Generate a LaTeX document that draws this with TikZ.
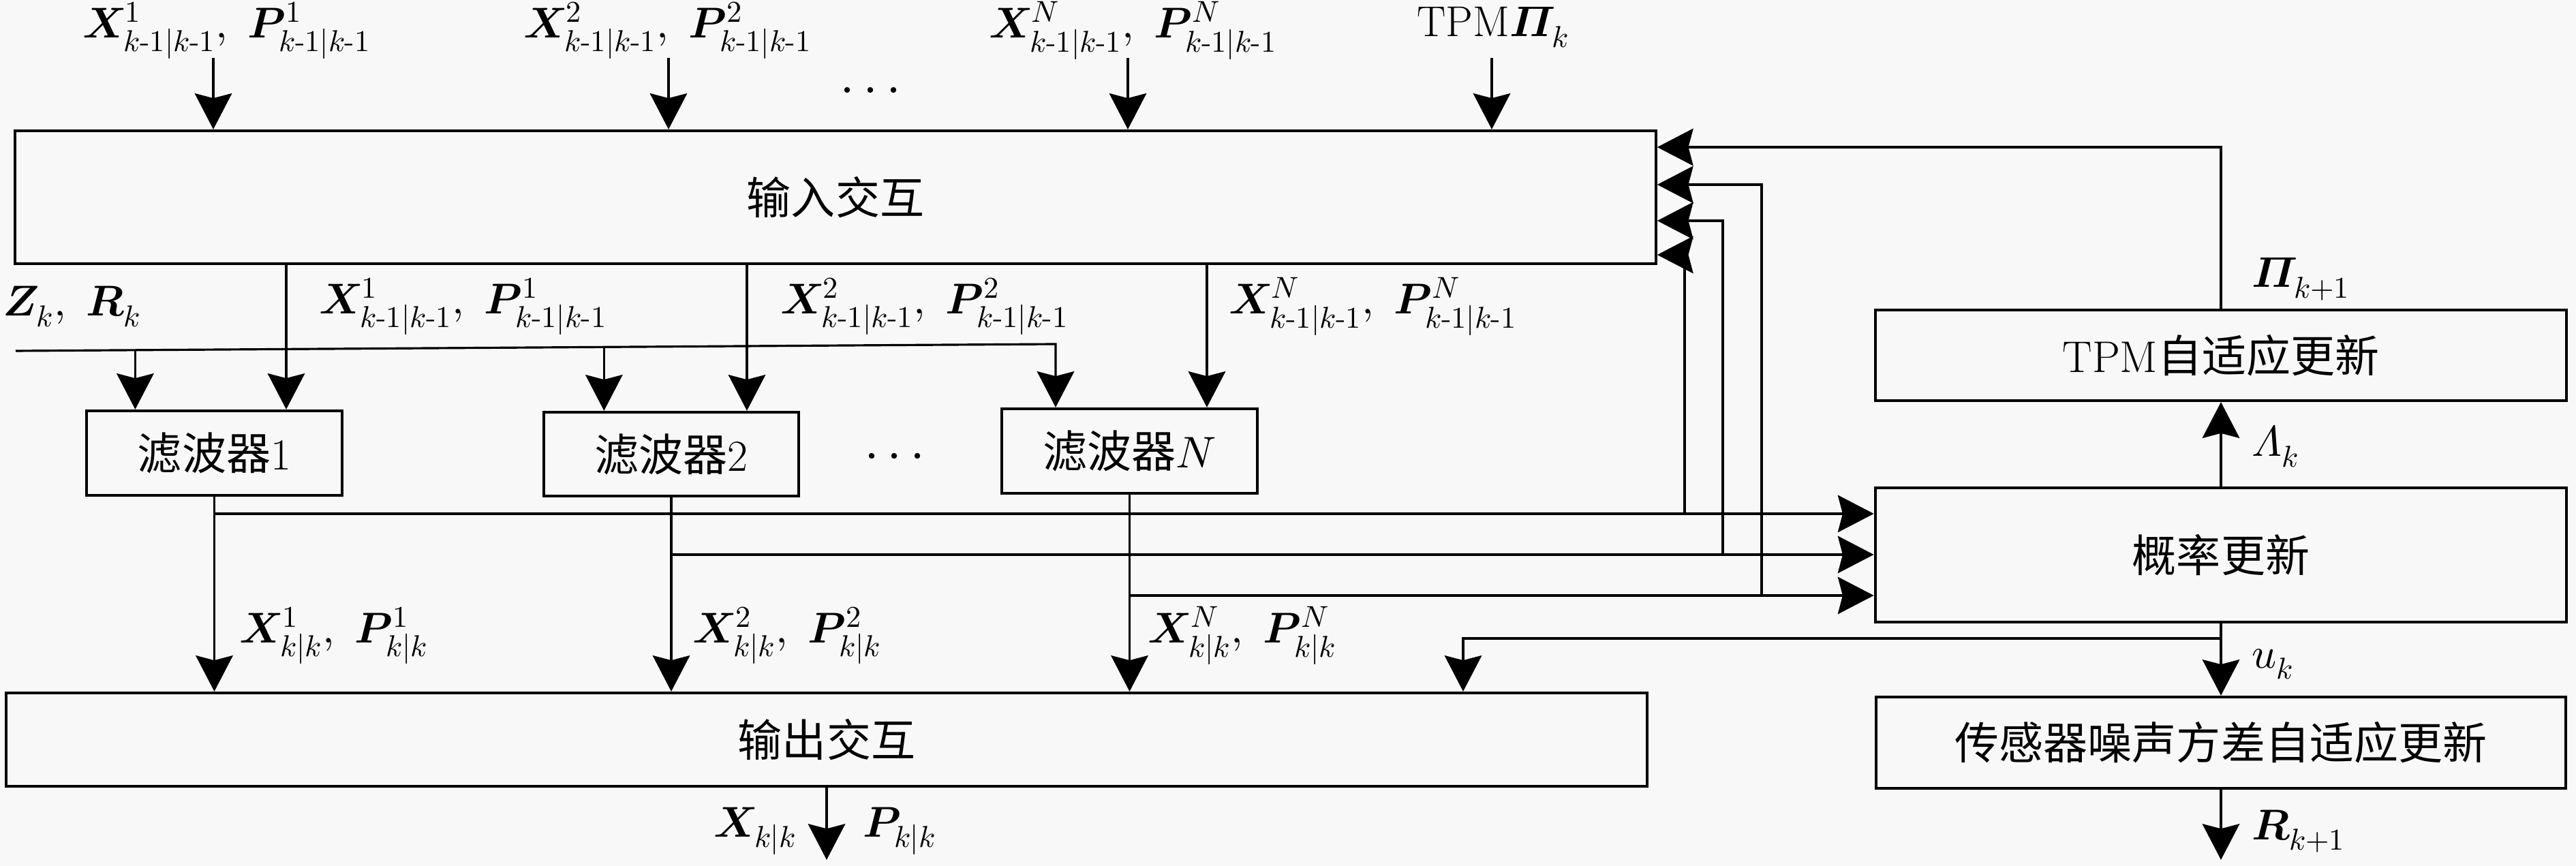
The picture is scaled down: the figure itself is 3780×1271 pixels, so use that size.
\documentclass[tikz,border=0pt]{standalone}
\usepackage{amsmath}
\usepackage{fontspec}
\usepackage{unicode-math}
\setmathfont{Latin Modern Math}
\newfontfamily\cjk{Noto Sans CJK SC}
\usetikzlibrary{arrows.meta,calc}
\definecolor{bg}{RGB}{248,248,248}
\newcommand{\kmo}{k\text{-}1}
\newcommand{\bX}{\symbfit{X}}
\newcommand{\bP}{\symbfit{P}}
\begin{document}
\begin{tikzpicture}[x=0.01cm,y=-0.01cm,
  every node/.style={font=\fontsize{18.5}{22}\selectfont},
  box/.style={draw, line width=1.2pt, inner sep=0pt, align=center},
  ln/.style={line width=0.9pt},
  arr/.style={ln, -{Stealth[length=15pt,width=15.5pt,inset=2pt]}},
  lbl/.style={inner sep=1pt, font=\fontsize{18}{22}\selectfont},
  dot/.style={fill, inner sep=0pt, minimum size=2.4pt, circle}
]
\fill[bg] (0,0) rectangle (3780,1271);
\useasboundingbox (0,0) rectangle (3780,1271);

% boxes
\node[box, minimum width=24.06cm, minimum height=1.95cm] (inbox) at (1226,289.5) {\cjk 输入交互};
\node[box, minimum width=3.75cm, minimum height=1.24cm] (f1) at (314.5,665) {{\cjk 滤波器}1};
\node[box, minimum width=3.74cm, minimum height=1.23cm] (f2) at (985,666.5) {{\cjk 滤波器}2};
\node[box, minimum width=3.75cm, minimum height=1.24cm] (fN) at (1657.5,662) {{\cjk 滤波器}$N$};
\node[box, minimum width=24.06cm, minimum height=1.37cm] (outbox) at (1213,1085.5) {\cjk 输出交互};
\node[box, minimum width=10.14cm, minimum height=1.33cm] (tpm) at (3259,521.5) {TPM{\cjk 自适应更新}};
\node[box, minimum width=10.14cm, minimum height=1.97cm] (pu) at (3259,814.5) {\cjk 概率更新};
\node[box, minimum width=10.12cm, minimum height=1.34cm] (sn) at (3259,1090) {\cjk 传感器噪声方差自适应更新};

% top inputs
\node[lbl] (lt1) at (333,45) {$\bX^1_{\kmo|\kmo},\ \bP^1_{\kmo|\kmo}$};
\node[lbl] (lt2) at (980,45) {$\bX^2_{\kmo|\kmo},\ \bP^2_{\kmo|\kmo}$};
\node[lbl] (ltN) at (1663,45) {$\bX^N_{\kmo|\kmo},\ \bP^N_{\kmo|\kmo}$};
\node[lbl] (ltT) at (2191,40) {TPM$\symbfit{\Pi}_k$};
\node[dot] (dt1) at (1243,132) {};
\node[dot] (dt2) at (1277,132) {};
\node[dot] (dt3) at (1311,132) {};
\coordinate (t1) at (313,85);
\coordinate (t2) at (981,85);
\coordinate (tN) at (1655,85);
\coordinate (tT) at (2189,85);
\draw[arr] (t1) -- (t1 |- inbox.north);
\draw[arr] (t2) -- (t2 |- inbox.north);
\draw[arr] (tN) -- (tN |- inbox.north);
\draw[arr] (tT) -- (tT |- inbox.north);

% measurement line
\node[lbl] (lz) at (106,450) {$\symbfit{Z}_k,\ \symbfit{R}_k$};
\coordinate (z0) at (23,515);
\coordinate (zN) at (1549,505);
\coordinate (zb1) at ($(z0)!(199,600)!(zN)$);
\coordinate (zb2) at ($(z0)!(887,600)!(zN)$);
\draw[arr] (z0) -- (zN) -- (zN |- fN.north);
\draw[arr] (zb1) -- (zb1 |- f1.north);
\draw[arr] (zb2) -- (zb2 |- f2.north);

% input interaction to filters
\coordinate (i1) at (420,0);
\coordinate (i2) at (1096,0);
\coordinate (iN) at (1771,0);
\draw[arr] (inbox.south -| i1) -- (f1.north -| i1);
\draw[arr] (inbox.south -| i2) -- (f2.north -| i2);
\draw[arr] (inbox.south -| iN) -- (fN.north -| iN);
\node[lbl] (lm1) at (680,450) {$\bX^1_{\kmo|\kmo},\ \bP^1_{\kmo|\kmo}$};
\node[lbl] (lm2) at (1357,450) {$\bX^2_{\kmo|\kmo},\ \bP^2_{\kmo|\kmo}$};
\node[lbl] (lmN) at (2015,450) {$\bX^N_{\kmo|\kmo},\ \bP^N_{\kmo|\kmo}$};
\node[dot] (dm1) at (1279,669) {};
\node[dot] (dm2) at (1312,669) {};
\node[dot] (dm3) at (1346,669) {};

% filters to output interaction
\draw[arr] (f1.south) -- (f1.south |- outbox.north);
\draw[arr] (f2.south) -- (f2.south |- outbox.north);
\draw[arr] (fN.south) -- (fN.south |- outbox.north);
\node[lbl] (lo1) at (490,933) {$\bX^1_{k|k},\ \bP^1_{k|k}$};
\node[lbl] (lo2) at (1155,933) {$\bX^2_{k|k},\ \bP^2_{k|k}$};
\node[lbl] (loN) at (1823,933) {$\bX^N_{k|k},\ \bP^N_{k|k}$};

% filters to probability update
\coordinate (h1) at (0,754);
\coordinate (h2) at (0,814);
\coordinate (h3) at (0,874);
\draw[arr] (f1.south |- h1) -- (pu.west |- h1);
\draw[arr] (f2.south |- h2) -- (pu.west |- h2);
\draw[arr] (fN.south |- h3) -- (pu.west |- h3);

% feedback into input interaction
\coordinate (v1) at (2472,374);
\coordinate (v2) at (2528,324);
\coordinate (v3) at (2585,271);
\coordinate (v4) at (0,216);
\draw[arr] (v1 |- h1) -- (v1) -- (inbox.east |- v1);
\draw[arr] (v2 |- h2) -- (v2) -- (inbox.east |- v2);
\draw[arr] (v3 |- h3) -- (v3) -- (inbox.east |- v3);
\draw[arr] (tpm.north) -- (tpm.north |- v4) -- (inbox.east |- v4);
\node[lbl, anchor=west] (lpi) at (3300,410) {$\symbfit{\Pi}_{k+1}$};

% right column
\draw[arr] (pu.north) -- (tpm.south);
\node[lbl, anchor=west] (llam) at (3300,655) {$\symit{\Lambda}_k$};
\draw[arr] (pu.south) -- (sn.north);
\node[lbl, anchor=west] (lu) at (3300,975) {$u_k$};
\coordinate (ub) at (0,937);
\coordinate (ox) at (2147,0);
\draw[arr] (pu.south |- ub) -- (ox |- ub) -- (ox |- outbox.north);
\coordinate (ro) at (0,1262);
\draw[arr] (sn.south) -- (sn.south |- ro);
\node[lbl, anchor=west] (lr) at (3300,1220) {$\symbfit{R}_{k+1}$};

% output
\draw[arr] (outbox.south) -- (outbox.south |- ro);
\node[lbl] (lx) at (1108,1220) {$\bX_{k|k}$};
\node[lbl] (lp) at (1320,1220) {$\bP_{k|k}$};
\end{tikzpicture}
\end{document}
